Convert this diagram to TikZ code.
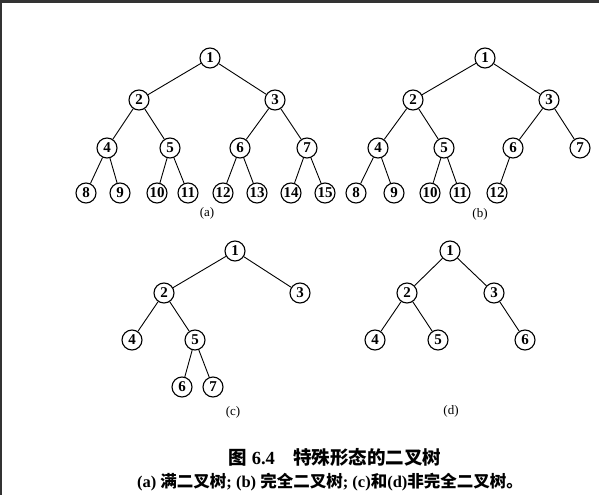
\documentclass[tikz,border=0pt]{standalone}
\usepackage{fontspec}
\setmainfont{Liberation Serif}
\newfontfamily\cjk{Noto Sans CJK SC}
\usetikzlibrary{positioning}

\begin{document}
\begin{tikzpicture}[x=1pt,y=-1pt]
  \tikzstyle{vertex} = [circle, draw, line width=1.1pt, minimum size=20pt,
      inner sep=0pt, font=\fontsize{15}{15}\selectfont\bfseries]
  \tikzstyle{edge} = [line width=0.9pt]
  \tikzstyle{tag} = [font=\fontsize{13}{13}\selectfont]

  % page with the dark scan edge at top and left
  \fill[white] (0,0) rectangle (599,495);
  \useasboundingbox (0,0) rectangle (599,495);
  \fill[black!80] (0,0) rectangle (599,3);
  \fill[black!80] (0,0) rectangle (2,495);

  % (a) full tree
  \node (a1)  [vertex] at (210,58)  {1};
  \node (a2)  [vertex] at (139,100) {2};
  \node (a3)  [vertex] at (275,100) {3};
  \node (a4)  [vertex] at (107,148) {4};
  \node (a5)  [vertex] at (170,148) {5};
  \node (a6)  [vertex] at (240,148) {6};
  \node (a7)  [vertex] at (307,148) {7};
  \node (a8)  [vertex] at (86,193)  {8};
  \node (a9)  [vertex] at (120,193) {9};
  \node (a10) [vertex] at (157,193) {10};
  \node (a11) [vertex] at (188,193) {11};
  \node (a12) [vertex] at (223,193) {12};
  \node (a13) [vertex] at (257,193) {13};
  \node (a14) [vertex] at (291,193) {14};
  \node (a15) [vertex] at (325,193) {15};
  \node (taga) [tag]   at (207,213) {(a)};

  \draw[edge] (a1) -- (a2);  \draw[edge] (a1) -- (a3);
  \draw[edge] (a2) -- (a4);  \draw[edge] (a2) -- (a5);
  \draw[edge] (a3) -- (a6);  \draw[edge] (a3) -- (a7);
  \draw[edge] (a4) -- (a8);  \draw[edge] (a4) -- (a9);
  \draw[edge] (a5) -- (a10); \draw[edge] (a5) -- (a11);
  \draw[edge] (a6) -- (a12); \draw[edge] (a6) -- (a13);
  \draw[edge] (a7) -- (a14); \draw[edge] (a7) -- (a15);

  % (b) complete tree
  \node (b1)  [vertex] at (485,58)  {1};
  \node (b2)  [vertex] at (413,100) {2};
  \node (b3)  [vertex] at (549,100) {3};
  \node (b4)  [vertex] at (378,148) {4};
  \node (b5)  [vertex] at (444,148) {5};
  \node (b6)  [vertex] at (513,148) {6};
  \node (b7)  [vertex] at (580,148) {7};
  \node (b8)  [vertex] at (356,193) {8};
  \node (b9)  [vertex] at (394,193) {9};
  \node (b10) [vertex] at (430,193) {10};
  \node (b11) [vertex] at (460,193) {11};
  \node (b12) [vertex] at (497,193) {12};
  \node (tagb) [tag]   at (480,214) {(b)};

  \draw[edge] (b1) -- (b2);  \draw[edge] (b1) -- (b3);
  \draw[edge] (b2) -- (b4);  \draw[edge] (b2) -- (b5);
  \draw[edge] (b3) -- (b6);  \draw[edge] (b3) -- (b7);
  \draw[edge] (b4) -- (b8);  \draw[edge] (b4) -- (b9);
  \draw[edge] (b5) -- (b10); \draw[edge] (b5) -- (b11);
  \draw[edge] (b6) -- (b12);

  % (c) not complete
  \node (c1) [vertex] at (235,251) {1};
  \node (c2) [vertex] at (164,293) {2};
  \node (c3) [vertex] at (300,293) {3};
  \node (c4) [vertex] at (132,340) {4};
  \node (c5) [vertex] at (195,340) {5};
  \node (c6) [vertex] at (182,387) {6};
  \node (c7) [vertex] at (213,387) {7};
  \node (tagc) [tag]  at (233,412) {(c)};

  \draw[edge] (c1) -- (c2); \draw[edge] (c1) -- (c3);
  \draw[edge] (c2) -- (c4); \draw[edge] (c2) -- (c5);
  \draw[edge] (c5) -- (c6); \draw[edge] (c5) -- (c7);

  % (d) not complete
  \node (d1) [vertex] at (450,251) {1};
  \node (d2) [vertex] at (407,293) {2};
  \node (d3) [vertex] at (494,293) {3};
  \node (d4) [vertex] at (375,340) {4};
  \node (d5) [vertex] at (438,340) {5};
  \node (d6) [vertex] at (525,340) {6};
  \node (tagd) [tag]  at (451,411) {(d)};

  \draw[edge] (d1) -- (d2); \draw[edge] (d1) -- (d3);
  \draw[edge] (d2) -- (d4); \draw[edge] (d2) -- (d5);
  \draw[edge] (d3) -- (d6);

  % caption
  \node (title) at (335,457) {\fontsize{18.5}{18.5}\selectfont\bfseries
      {\cjk 图} 6.4\quad{\cjk 特殊形态的二叉树}};
  \node (legend) at (330,482) {\fontsize{16.5}{16.5}\selectfont\bfseries
      (a) {\cjk 满二叉树}; (b) {\cjk 完全二叉树}; (c){\cjk 和}(d){\cjk 非完全二叉树。}};
\end{tikzpicture}
\end{document}
